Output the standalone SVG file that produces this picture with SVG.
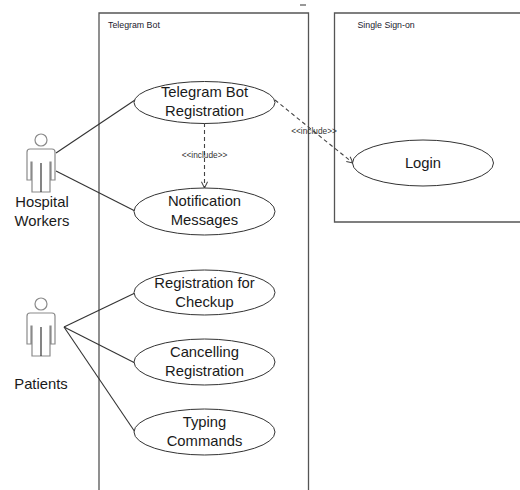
<svg xmlns="http://www.w3.org/2000/svg" width="520" height="490" viewBox="0 0 520 490">
<defs>
<style>
.box{fill:none;stroke:#555;stroke-width:1.3}
.uc{fill:#fff;stroke:#333;stroke-width:1}
.actor{fill:#fff;stroke:#8a8a8a;stroke-width:1.2}
.lbl{font-family:"Liberation Sans",Arial,sans-serif;font-size:14.8px;fill:#1a1a1a;text-anchor:middle}
.title{font-family:"Liberation Sans",Arial,sans-serif;font-size:8.8px;fill:#1a1a2e}
.inc{font-family:"Liberation Sans",Arial,sans-serif;font-size:8.3px;fill:#333;text-anchor:middle}
.assoc{stroke:#333;stroke-width:1.1;fill:none}
.dash{stroke:#444;stroke-width:1.1;fill:none;stroke-dasharray:4,3}
</style>
<marker id="open" viewBox="0 0 10 10" refX="9" refY="5" markerWidth="7" markerHeight="7" orient="auto">
<path d="M1,1 L9,5 L1,9" fill="none" stroke="#444" stroke-width="1.3"/>
</marker>
<g id="actorShape">
<circle cx="0" cy="0" r="6" class="actor"/>
<path class="actor" d="M-14,12 Q-14,9 -11,9 L11,9 Q14,9 14,12 L14,40 L10,40 L10,22 L9,22 L9,52 L-9,52 L-9,22 L-10,22 L-10,40 L-14,40 Z"/>
<line x1="0" y1="23" x2="0" y2="52" stroke="#333" stroke-width="1.2"/>
</g>
</defs>
<rect width="520" height="490" fill="#fff"/>
<line x1="300" y1="5" x2="306" y2="5" stroke="#333" stroke-width="1"/>
<g id="telegram-bot-boundary">
<path class="box" d="M99,491 L99,13 L308.5,13 L308.5,491"/>
<text class="title" x="108" y="28">Telegram Bot</text>
</g>
<g id="sso-boundary">
<path class="box" d="M521,13 L334.5,13 L334.5,222 L521,222"/>
<text class="title" x="357.5" y="28">Single Sign-on</text>
</g>
<g id="connectors">
<line class="assoc" x1="56" y1="153" x2="135" y2="100"/>
<line class="assoc" x1="56" y1="171" x2="135" y2="211"/>
<line class="assoc" x1="64" y1="327" x2="135" y2="293"/>
<line class="assoc" x1="64" y1="327" x2="135" y2="363"/>
<line class="assoc" x1="64" y1="327" x2="135" y2="432"/>
<line class="dash" x1="204.5" y1="123" x2="204.5" y2="188" marker-end="url(#open)"/>
<text class="inc" x="204.5" y="158">&lt;&lt;include&gt;&gt;</text>
<line class="dash" x1="275" y1="100" x2="353" y2="163" marker-end="url(#open)"/>
<text class="inc" x="314" y="134">&lt;&lt;include&gt;&gt;</text>
</g>
<g id="hospital-workers">
<use href="#actorShape" x="41" y="140"/>
<text class="lbl" x="42" y="207">Hospital</text>
<text class="lbl" x="42" y="226">Workers</text>
</g>
<g id="patients">
<use href="#actorShape" x="41" y="304"/>
<text class="lbl" x="41" y="389">Patients</text>
</g>
<g id="uc-telegram-bot-registration">
<ellipse class="uc" cx="204.5" cy="102.5" rx="70.5" ry="21"/>
<text class="lbl" x="204.5" y="97">Telegram Bot</text>
<text class="lbl" x="204.5" y="116">Registration</text>
</g>
<g id="uc-notification-messages">
<ellipse class="uc" cx="204.5" cy="211.5" rx="70.5" ry="23.5"/>
<text class="lbl" x="204.5" y="206">Notification</text>
<text class="lbl" x="204.5" y="225">Messages</text>
</g>
<g id="uc-login">
<ellipse class="uc" cx="423" cy="163" rx="70.5" ry="23"/>
<text class="lbl" x="423" y="168">Login</text>
</g>
<g id="uc-registration-checkup">
<ellipse class="uc" cx="204.5" cy="292.5" rx="70.5" ry="22.5"/>
<text class="lbl" x="204.5" y="288">Registration for</text>
<text class="lbl" x="204.5" y="307">Checkup</text>
</g>
<g id="uc-cancelling-registration">
<ellipse class="uc" cx="204.5" cy="362" rx="70.5" ry="23"/>
<text class="lbl" x="204.5" y="357">Cancelling</text>
<text class="lbl" x="204.5" y="376">Registration</text>
</g>
<g id="uc-typing-commands">
<ellipse class="uc" cx="204.5" cy="432" rx="70.5" ry="23"/>
<text class="lbl" x="204.5" y="427">Typing</text>
<text class="lbl" x="204.5" y="446">Commands</text>
</g>
</svg>
